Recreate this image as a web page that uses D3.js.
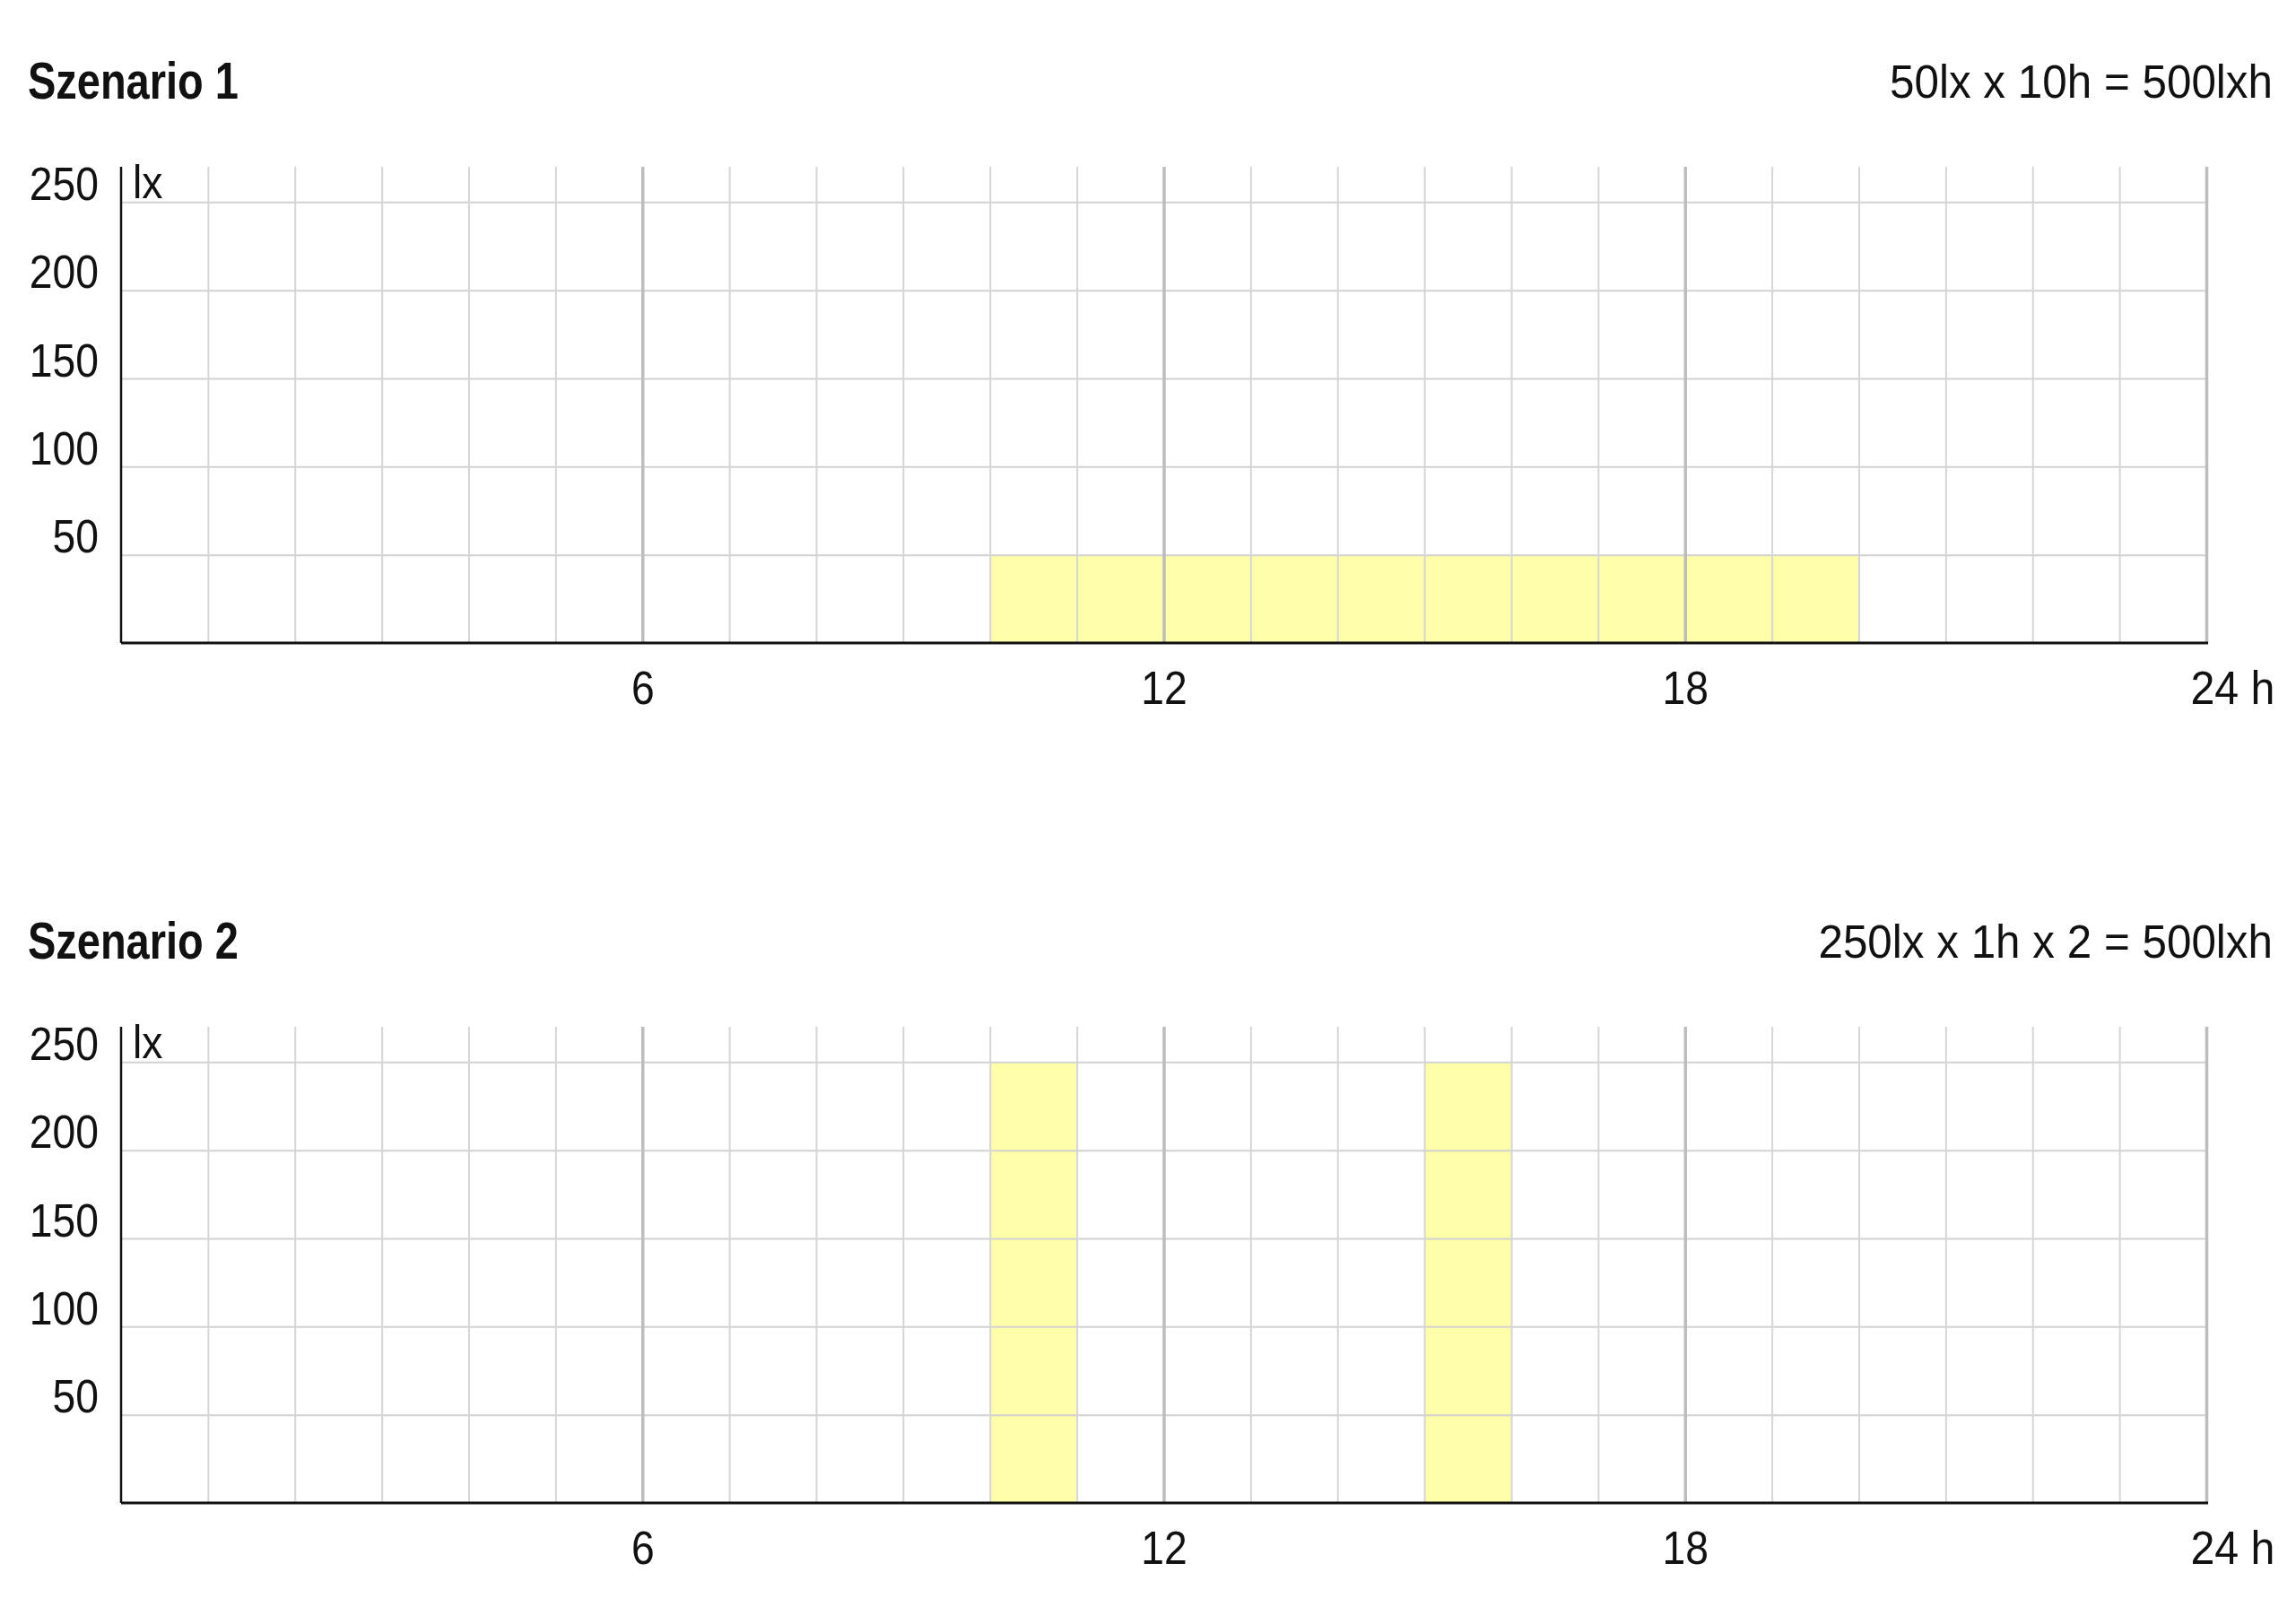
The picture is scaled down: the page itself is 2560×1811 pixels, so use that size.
<!DOCTYPE html>
<html>
<head>
<meta charset="utf-8">
<script src="https://cdn.jsdelivr.net/npm/d3@7"></script>
<style>
  body { margin: 0; background: #fff; }
  text { font-family: "Liberation Sans", Arial, sans-serif; fill: #111; }
</style>
</head>
<body>
<div id="chart"></div>
<script>
// chart values
var titles = ["Szenario 1", "Szenario 2"];
var formulas = ["50lx x 10h = 500lxh", "250lx x 1h x 2 = 500lxh"];
var barStart1 = [10];
var barEnd1 = [20];
var barLux1 = [50];
var barStart2 = [10, 15];
var barEnd2 = [11, 16];
var barLux2 = [250, 250];
var yTicks = [50, 100, 150, 200, 250];
var hourTicks = [1,2,3,4,5,6,7,8,9,10,11,12,13,14,15,16,17,18,19,20,21,22,23,24];
var majorHours = [6, 12, 18, 24];
var xLabels = ["6", "12", "18", "24 h"];

var W = 2560, H = 1811;
var panelOffset = 959;
// no narrow font installed, so text is squeezed horizontally
var sxTitle = 0.81, sxFormula = 0.95, sxTick = 0.89, sxUnit = 0.93;

var svg = d3.select("#chart")
	.append("svg")
	.attr("width", W)
	.attr("height", H);

var x = d3.scaleLinear().domain([0, 24]).range([135, 2460]);
var y = d3.scaleLinear().domain([0, 270]).range([717, 186]);

function makeBars(starts, ends, lux) {
	return starts.map(function(s, i) { return { start: s, end: ends[i], lux: lux[i] }; });
}

function build_panel(g, title, formula, bars) {
	// title + formula
	g.append("text")
		.attr("transform", "translate(31,110) scale(" + sxTitle + ",1)")
		.style("font-size", "58px")
		.style("font-weight", "bold")
		.text(title);
	g.append("text")
		.attr("transform", "translate(2534,109) scale(" + sxFormula + ",1)")
		.attr("text-anchor", "end")
		.style("font-size", "52px")
		.text(formula);

	// bars (under the grid)
	g.selectAll(".bar")
		.data(bars)
		.enter().append("rect")
		.attr("class", "bar")
		.attr("x", function(d) { return x(d.start); })
		.attr("width", function(d) { return x(d.end) - x(d.start); })
		.attr("y", function(d) { return y(d.lux); })
		.attr("height", function(d) { return y(0) - y(d.lux); })
		.style("fill", "#ffffaa");

	// horizontal grid
	var yGrid = g.append("g")
		.attr("transform", "translate(" + x(0) + ",0)")
		.call(d3.axisLeft(y).tickValues(yTicks).tickSize(-(x(24) - x(0))).tickFormat(""));
	yGrid.select(".domain").remove();
	yGrid.selectAll("line").style("stroke", "#d2d2d2").style("stroke-width", 2);

	// vertical grid
	var xGrid = g.append("g")
		.attr("transform", "translate(0," + y(0) + ")")
		.call(d3.axisBottom(x).tickValues(hourTicks).tickSize(-(y(0) - y(270))).tickFormat(""));
	xGrid.select(".domain").remove();
	xGrid.selectAll("line")
		.style("stroke", function(d) { return majorHours.indexOf(d) >= 0 ? "#bdbdbd" : "#d6d6d6"; })
		.style("stroke-width", function(d) { return majorHours.indexOf(d) >= 0 ? 3.5 : 2; });

	// y axis line + labels
	var yAxis = g.append("g")
		.attr("transform", "translate(" + x(0) + ",0)")
		.call(d3.axisLeft(y).tickValues(yTicks).tickSize(0).tickPadding(25));
	yAxis.select(".domain").attr("d", "M0," + y(270) + "V" + y(0)).style("stroke", "#111").style("stroke-width", 2.5);
	yAxis.selectAll("text")
		.attr("dy", null)
		.attr("y", -3)
		.attr("x", -25 / sxTick)
		.attr("transform", "scale(" + sxTick + ",1)")
		.style("font-size", "52px")
		.style("font-family", null);
	g.append("text")
		.attr("transform", "translate(148," + (y(250) - 4) + ") scale(" + sxTick + ",1)")
		.style("font-size", "52px")
		.text("lx");

	// x axis line + labels
	var xAxis = g.append("g")
		.attr("transform", "translate(0," + y(0) + ")")
		.call(d3.axisBottom(x).tickValues(majorHours).tickSize(0).tickPadding(0)
			.tickFormat(function(d, i) { return xLabels[i]; }));
	xAxis.select(".domain").attr("d", "M" + x(0) + ",0H" + (x(24) + 2)).style("stroke", "#111").style("stroke-width", 3);
	xAxis.selectAll("text")
		.attr("dy", null)
		.attr("y", 68)
		.attr("text-anchor", function(d) { return d == 24 ? "end" : "middle"; })
		.attr("x", function(d) { return d == 24 ? 76 / sxUnit : 0; })
		.attr("transform", function(d) { return "scale(" + (d == 24 ? sxUnit : sxTick) + ",1)"; })
		.style("font-size", "52px")
		.style("font-family", null);
}

var panel1 = svg.append("g");
build_panel(panel1, titles[0], formulas[0], makeBars(barStart1, barEnd1, barLux1));

var panel2 = svg.append("g").attr("transform", "translate(0," + panelOffset + ")");
build_panel(panel2, titles[1], formulas[1], makeBars(barStart2, barEnd2, barLux2));
</script>
</body>
</html>
